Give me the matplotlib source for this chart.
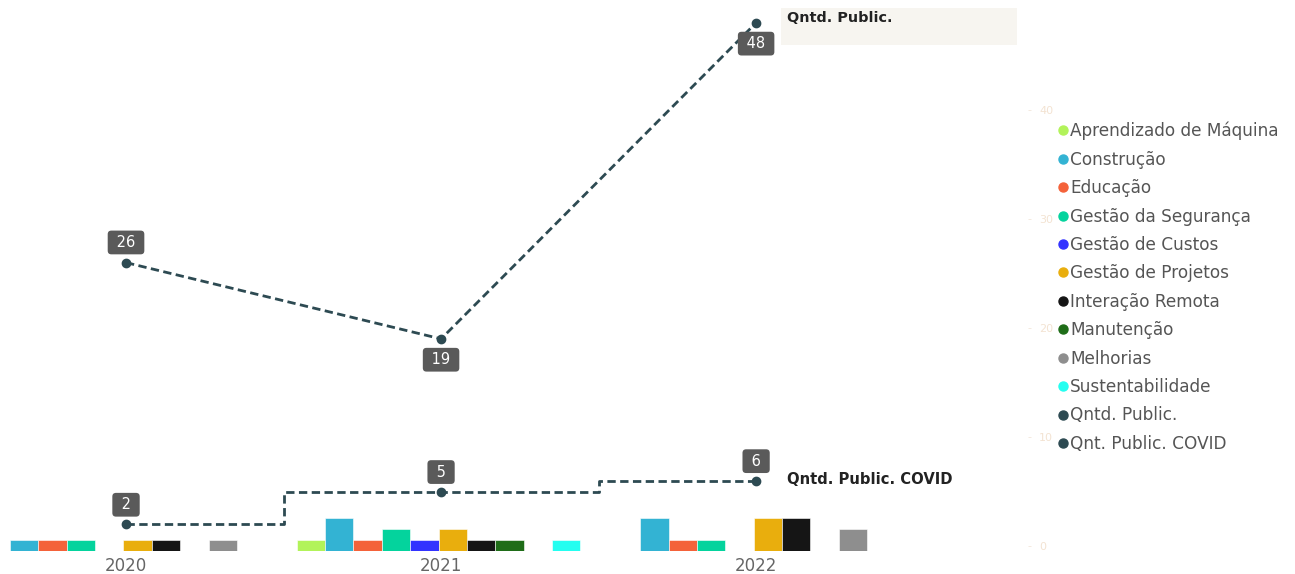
import numpy as np
import matplotlib
matplotlib.use("Agg")
import matplotlib.pyplot as plt
from matplotlib.lines import Line2D

# data
years = ["2020", "2021", "2022"]
categories = ["Aprendizado de Máquina", "Construção", "Educação", "Gestão da Segurança",
              "Gestão de Custos", "Gestão de Projetos", "Interação Remota", "Manutenção",
              "Melhorias", "Sustentabilidade"]
colors = ["#b2f35a", "#33b3d3", "#f4623a", "#04d39d", "#3333ff", "#e9ae0d", "#151515",
          "#1f6d18", "#8e8e8e", "#24fef0"]
counts = [
    [0, 1, 1, 1, 0, 1, 1, 0, 1, 0],  # 2020
    [1, 3, 1, 2, 1, 2, 1, 1, 0, 1],  # 2021
    [0, 3, 1, 1, 0, 3, 3, 0, 2, 0],  # 2022
]
qntd_public = [26, 19, 48]
qntd_covid = [2, 5, 6]

line_color = "#2d4a52"
x = np.arange(len(years))

fig = plt.figure(figsize=(12.95, 5.74), dpi=100)
ax = fig.add_axes([0, 23 / 574, 1028 / 1295, 546 / 574])
ax2 = ax.twinx()

# grouped bars
w = 0.09
for k, cat in enumerate(categories):
    vals = [counts[i][k] for i in range(len(years))]
    ax.bar(x - 0.008 + (k - 4.5) * w, vals, width=w, color=colors[k], edgecolor="#ffffff",
           linewidth=0.4, zorder=2)

ax.set_xlim(-0.4, 2.863)
ax.set_ylim(0, 546 / 11)
ax.set_yticks([])
ax.set_xticks(x)
ax.set_xticklabels(years, fontsize=12, color="#666666")
ax.tick_params(axis="x", length=0, pad=4)
for s in ax.spines.values():
    s.set_visible(False)

# lines on the secondary axis
ax2.plot(x, qntd_public, color=line_color, linestyle=(0, (3, 1.6)), linewidth=2,
         marker="o", markersize=6, zorder=4)
ax2.step(x, qntd_covid, where="mid", color=line_color, linestyle=(0, (3, 1.6)),
         linewidth=2, zorder=4)
ax2.plot(x, qntd_covid, "o", color=line_color, markersize=6, zorder=4)
ax2.set_ylim(-5 / 10.9, 541 / 10.9)
ax2.set_yticks([0, 10, 20, 30, 40])
ax2.tick_params(axis="y", colors="#f3e6da", labelsize=8, length=2, width=0.6, pad=6)
ax2.tick_params(axis="y", labelcolor="#f3e3d2")
for s in ax2.spines.values():
    s.set_visible(False)

box = dict(boxstyle="round,pad=0.3,rounding_size=0.25", facecolor="#5a5a5a", edgecolor="none")
offsets_public = [14.5, -15, -15]
for i, v in enumerate(qntd_public):
    ax2.annotate(f" {v} ", (x[i], v), xytext=(0, offsets_public[i]), textcoords="offset points",
                 ha="center", va="center", color="white", fontsize=10.5, bbox=box, zorder=6)
for i, v in enumerate(qntd_covid):
    ax2.annotate(f" {v} ", (x[i], v), xytext=(0, 14), textcoords="offset points",
                 ha="center", va="center", color="white", fontsize=10.5, bbox=box, zorder=6)

# series name labels at the end of each line
fig.patches.append(plt.Rectangle((781 / 1295, 1 - 45 / 574), 236 / 1295, 37 / 574,
                                 transform=fig.transFigure, facecolor="#f7f5f0",
                                 edgecolor="none", zorder=0))
fig.text(787 / 1295, 1 - 18 / 574, "Qntd. Public.", fontsize=10.4, fontweight="bold",
         color="#222222", va="center", ha="left")
fig.text(787 / 1295, 1 - 479 / 574, "Qntd. Public. COVID", fontsize=10.6, fontweight="bold",
         color="#222222", va="center", ha="left")

# legend
handles = [Line2D([], [], linestyle="none", marker="o", markersize=6.5, color=c) for c in colors]
handles += [Line2D([], [], linestyle="none", marker="o", markersize=6.5, color=line_color)] * 2
labels = categories + ["Qntd. Public.", "Qnt. Public. COVID"]
fig.legend(handles, labels, loc="upper left", bbox_to_anchor=(1049 / 1295, 1 - 115 / 574),
           frameon=False, fontsize=12.2, labelcolor="#555555", handletextpad=0.05,
           handlelength=0.8, labelspacing=0.615, borderaxespad=0)

fig.savefig("out.png", dpi=100)
